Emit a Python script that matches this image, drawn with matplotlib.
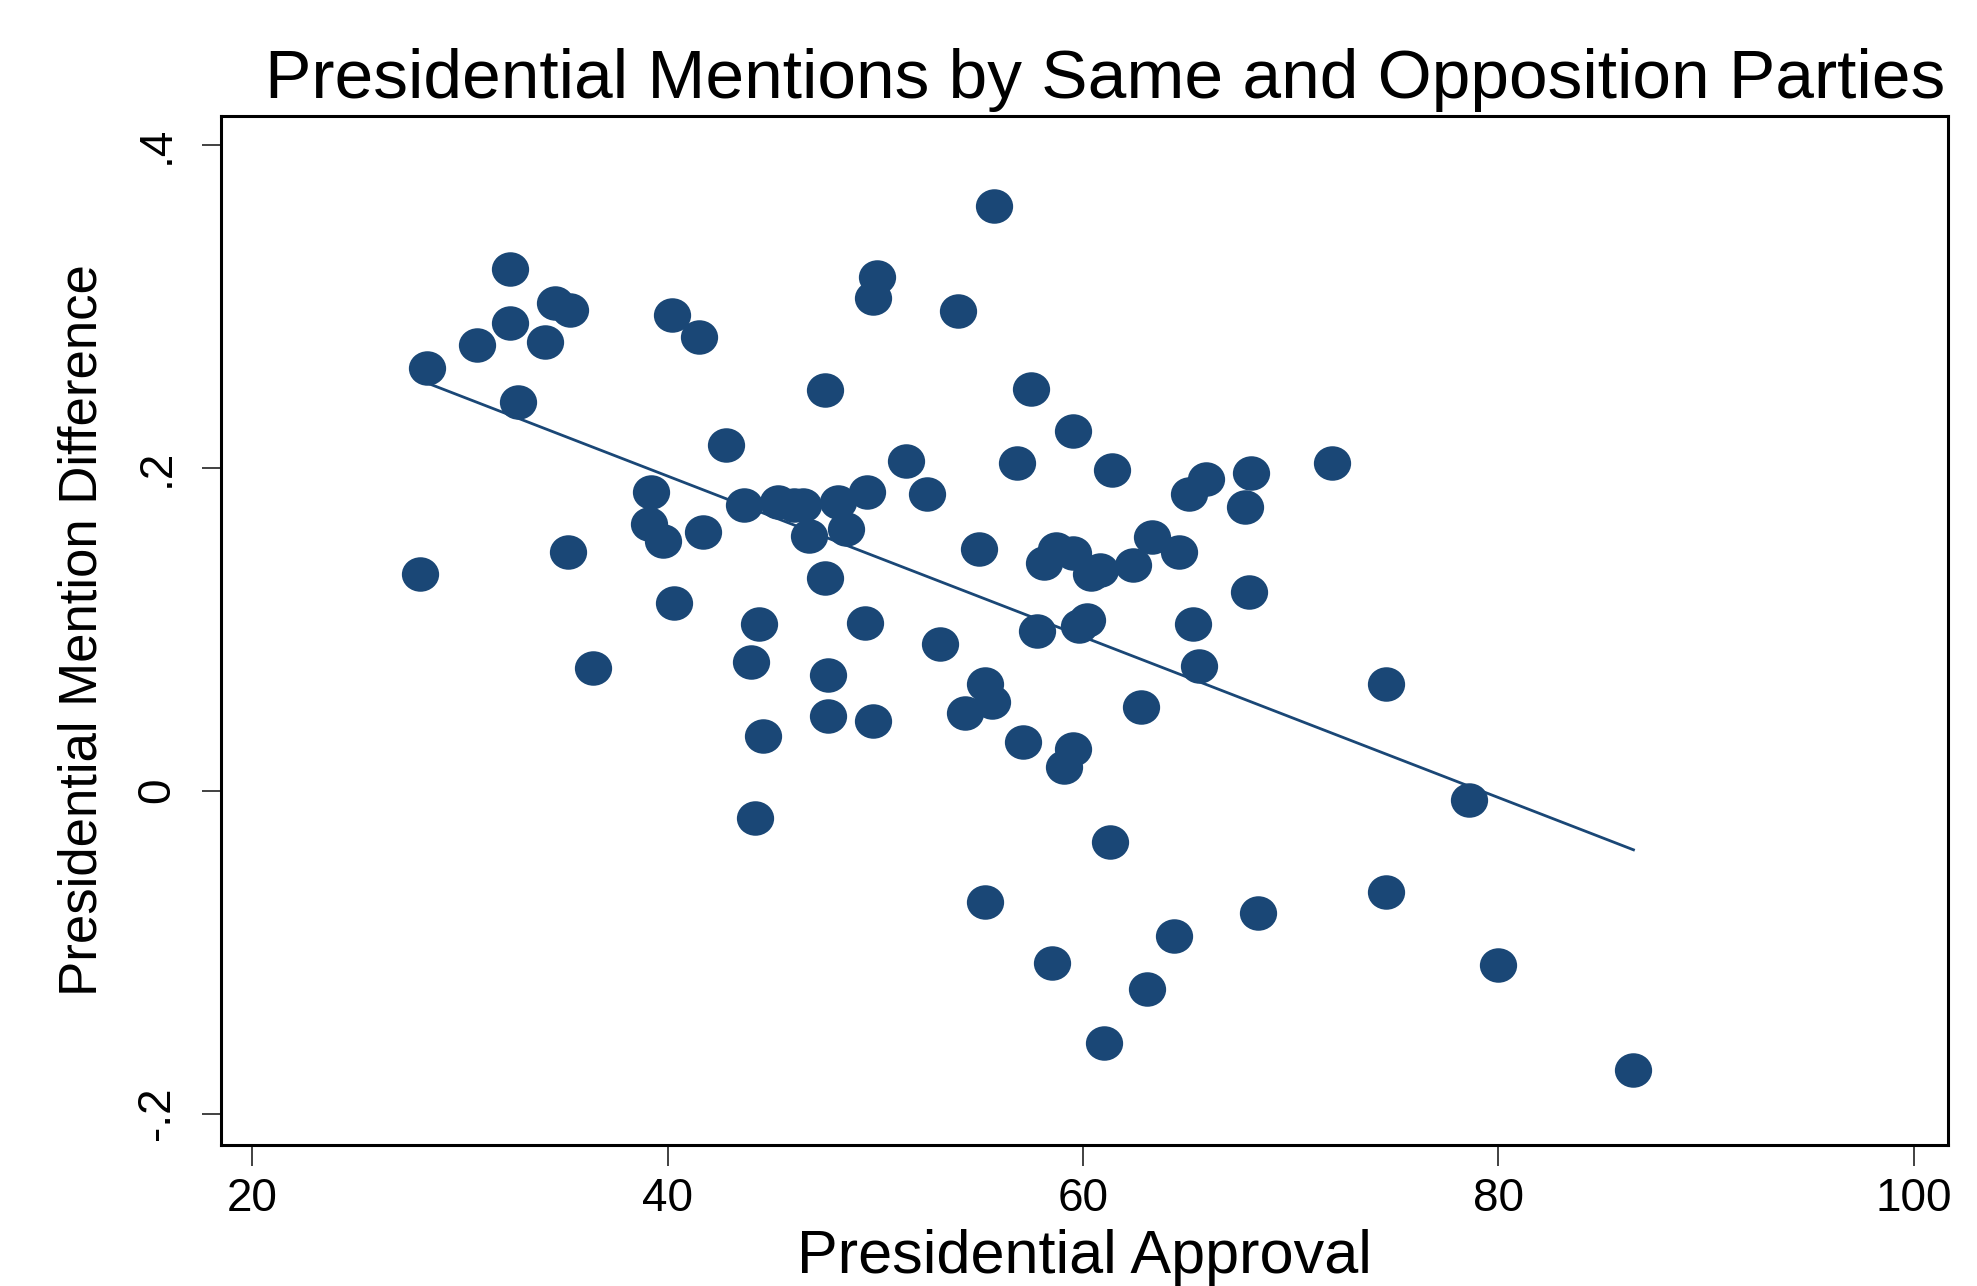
import numpy as np
import matplotlib
matplotlib.use('Agg')
import matplotlib.pyplot as plt
from matplotlib.path import Path

# approval (x) and mention difference (y)
approval = [28.4, 28.1, 30.8, 32.4, 32.4, 32.8, 34.1, 34.6, 35.3, 35.2,
            36.4, 40.2, 41.5, 39.2, 39.1, 39.8, 40.3, 41.7, 42.8, 43.7,
            44.0, 44.4, 44.6, 44.2, 45.3, 46.1, 46.5, 46.8, 47.6, 47.6,
            47.7, 47.7, 48.2, 48.6, 49.6, 49.5, 49.9, 50.1, 49.9, 51.5,
            52.5, 53.1, 54.0, 54.3, 55.0, 55.3, 55.6, 55.3, 55.7, 56.8,
            57.1, 57.5, 57.8, 58.1, 58.7, 59.5, 59.1, 59.5, 58.5, 59.5,
            59.8, 60.2, 60.4, 60.8, 61.4, 61.3, 61.0, 62.4, 62.8, 63.3,
            63.1, 64.6, 64.4, 65.1, 65.9, 65.3, 65.6, 67.8, 68.1, 68.0,
            68.4, 72.0, 74.6, 74.6, 78.6, 80.0, 86.5]
mention_diff = [0.262, 0.134, 0.276, 0.323, 0.290, 0.241, 0.278, 0.302, 0.298, 0.148,
                0.076, 0.295, 0.281, 0.185, 0.165, 0.155, 0.116, 0.160, 0.214, 0.177,
                0.080, 0.103, 0.034, -0.017, 0.179, 0.177, 0.177, 0.158, 0.248, 0.132,
                0.072, 0.046, 0.179, 0.162, 0.185, 0.104, 0.043, 0.318, 0.305, 0.204,
                0.184, 0.091, 0.297, 0.048, 0.150, 0.066, 0.055, -0.069, 0.362, 0.203,
                0.030, 0.249, 0.099, 0.141, 0.150, 0.147, 0.015, 0.026, -0.107, 0.223,
                0.102, 0.106, 0.134, 0.137, 0.199, -0.032, -0.156, 0.140, 0.052, 0.157,
                -0.123, 0.148, -0.090, 0.184, 0.193, 0.103, 0.077, 0.176, 0.197, 0.123,
                -0.076, 0.203, 0.066, -0.063, -0.006, -0.108, -0.173]

x_ticks = [20, 40, 60, 80, 100]
y_ticks = [-0.2, 0, 0.2, 0.4]
y_tick_labels = ['-.2', '0', '.2', '.4']

navy = '#1a4776'

plt.rcParams['font.family'] = ['Liberation Sans', 'DejaVu Sans']

fig = plt.figure(figsize=(19.77, 12.86), dpi=100)
ax = fig.add_axes([0.1116, 0.1096, 0.8737, 0.8002])

# slightly wide ellipse marker, like the stretched original
circ = Path.unit_circle()
ellipse = Path(circ.vertices * np.array([1.08, 1.0]), circ.codes)

x = np.array(approval)
y = np.array(mention_diff)
ax.scatter(x, y, s=720, marker=ellipse, color=navy, linewidths=0, zorder=3)

# fitted line
slope, intercept = np.polyfit(x, y, 1)
xs = np.array([x.min(), x.max()])
ax.plot(xs, intercept + slope * xs, color=navy, lw=2.0, zorder=4)

ax.set_xlim(18.48, 101.64)
ax.set_ylim(-0.2195, 0.418)
ax.set_xticks(x_ticks)
ax.set_xticklabels([str(t) for t in x_ticks])
ax.set_yticks(y_ticks)
ax.set_yticklabels(y_tick_labels, rotation=90, va='center')

for sp in ax.spines.values():
    sp.set_linewidth(2.2)
    sp.set_color('black')

ax.tick_params(axis='x', length=15, width=1.3, pad=8, labelsize=33, color='#333333')
ax.tick_params(axis='y', length=14, width=1.3, pad=16, labelsize=33, color='#333333')

ax.set_xlabel('Presidential Approval', fontsize=44, labelpad=6)
ax.set_ylabel('Presidential Mention Difference', fontsize=38, labelpad=20)

fig.text(0.559, 0.924, 'Presidential Mentions by Same and Opposition Parties',
         ha='center', va='baseline', fontsize=50)

fig.savefig('out.png', dpi=100)
